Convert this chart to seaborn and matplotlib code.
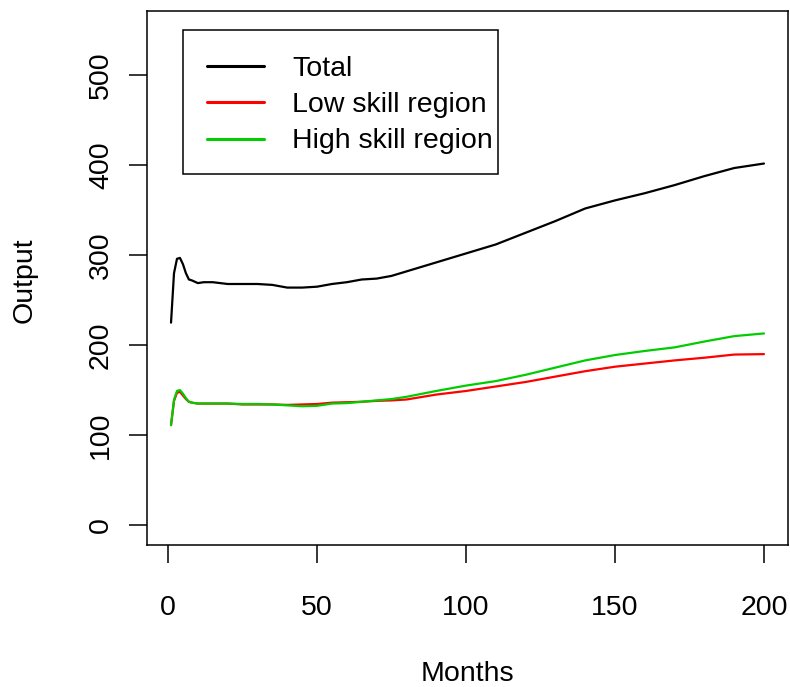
import matplotlib
matplotlib.use("Agg")
import matplotlib.pyplot as plt
from matplotlib.patches import Rectangle
import seaborn as sns
import pandas as pd

months = [1, 2, 3, 4, 5, 6, 7, 8, 10, 12, 15, 20, 25, 30, 35, 40, 45, 50, 55, 60,
          65, 70, 75, 80, 90, 100, 110, 120, 130, 140, 150, 160, 170, 180, 190, 200]
total = [225, 280, 296, 297, 290, 280, 273, 272, 269, 270, 270, 268, 268, 268, 267, 264, 264, 265, 268, 270,
         273, 274, 277, 282, 292, 302, 312, 325, 338, 352, 361, 369, 378, 388, 397, 402]
low_skill = [111, 138, 147, 148, 144, 140, 137, 136, 135, 135, 135, 135, 134, 134, 134, 133.5, 134, 134.5, 136, 136.5,
             137, 138, 138.5, 139.5, 145, 149, 154, 159, 165, 171, 176, 179.5, 183, 186, 189.5, 190]
high_skill = [111, 139, 149, 150, 146, 141, 137, 136, 135, 135, 135, 135, 134.5, 134.5, 134, 133, 132, 132.5, 135, 135.5,
              137, 138.5, 140, 142.5, 149, 155, 160, 167, 175, 183, 189, 193.5, 197.5, 204, 210, 213]
series_names = ["Total", "Low skill region", "High skill region"]
series_colors = ["#000000", "#FF0000", "#00CD00"]
x_ticks = [0, 50, 100, 150, 200]
y_ticks = [0, 100, 200, 300, 400, 500]

rows = []
for name, vals in zip(series_names, [total, low_skill, high_skill]):
    for m, v in zip(months, vals):
        rows.append({"Months": m, "Output": v, "Series": name})
df = pd.DataFrame(rows)

sns.set_theme(style="white")
plt.rcParams["font.family"] = ["Liberation Sans", "DejaVu Sans"]
plt.rcParams["text.color"] = "black"
FS = 20.5
W, H = 790, 687

fig = plt.figure(figsize=(7.9, 6.87), dpi=100)
ax = fig.add_axes([0.18646, 0.20713, 0.81063, 0.77729])
sns.lineplot(data=df, x="Months", y="Output", hue="Series", hue_order=series_names,
             palette=dict(zip(series_names, series_colors)), linewidth=1.6, ax=ax)

ax.set_xlim(-6.96, 207.96)
ax.set_ylim(-22, 572)
ax.set_xticks(x_ticks)
ax.set_yticks(y_ticks)
ax.set_xticklabels([str(t) for t in x_ticks], fontsize=FS)
ax.set_yticklabels([str(t) for t in y_ticks], fontsize=FS, rotation=90, va="center")
ax.tick_params(axis="both", which="major", bottom=True, left=True, direction="out",
               length=13, width=1.1, color="black", labelcolor="black")
ax.tick_params(axis="x", pad=23)
ax.tick_params(axis="y", pad=11)
for s in ax.spines.values():
    s.set_color("black")
    s.set_linewidth(1.1)

ax.set_xlabel("Months", fontsize=FS, va="baseline", color="black")
ax.xaxis.set_label_coords(0.5, (544.7 - 681) / 534)
ax.set_ylabel("Output", fontsize=FS, va="center", color="black")
ax.yaxis.set_label_coords(-0.192, 0.496)

# legend: content without frame, box drawn as in the reference
leg = fig.legend(*ax.get_legend_handles_labels(), loc="upper left",
                 bbox_to_anchor=(207 / W, 1 - 56 / H),
                 fontsize=FS, frameon=False,
                 handlelength=2.0, handletextpad=1.0, labelspacing=0.36, borderpad=0,
                 borderaxespad=0)
ax.get_legend().remove()
for line in leg.get_lines():
    line.set_linewidth(2.2)
for t in leg.get_texts():
    t.set_color("black")
fig.patches.append(Rectangle((183 / W, 1 - 174 / H), (498.3 - 183) / W, (174 - 30.3) / H,
                             transform=fig.transFigure, fill=False, edgecolor="black",
                             linewidth=1.1, figure=fig))

fig.savefig("out.png", dpi=100)
